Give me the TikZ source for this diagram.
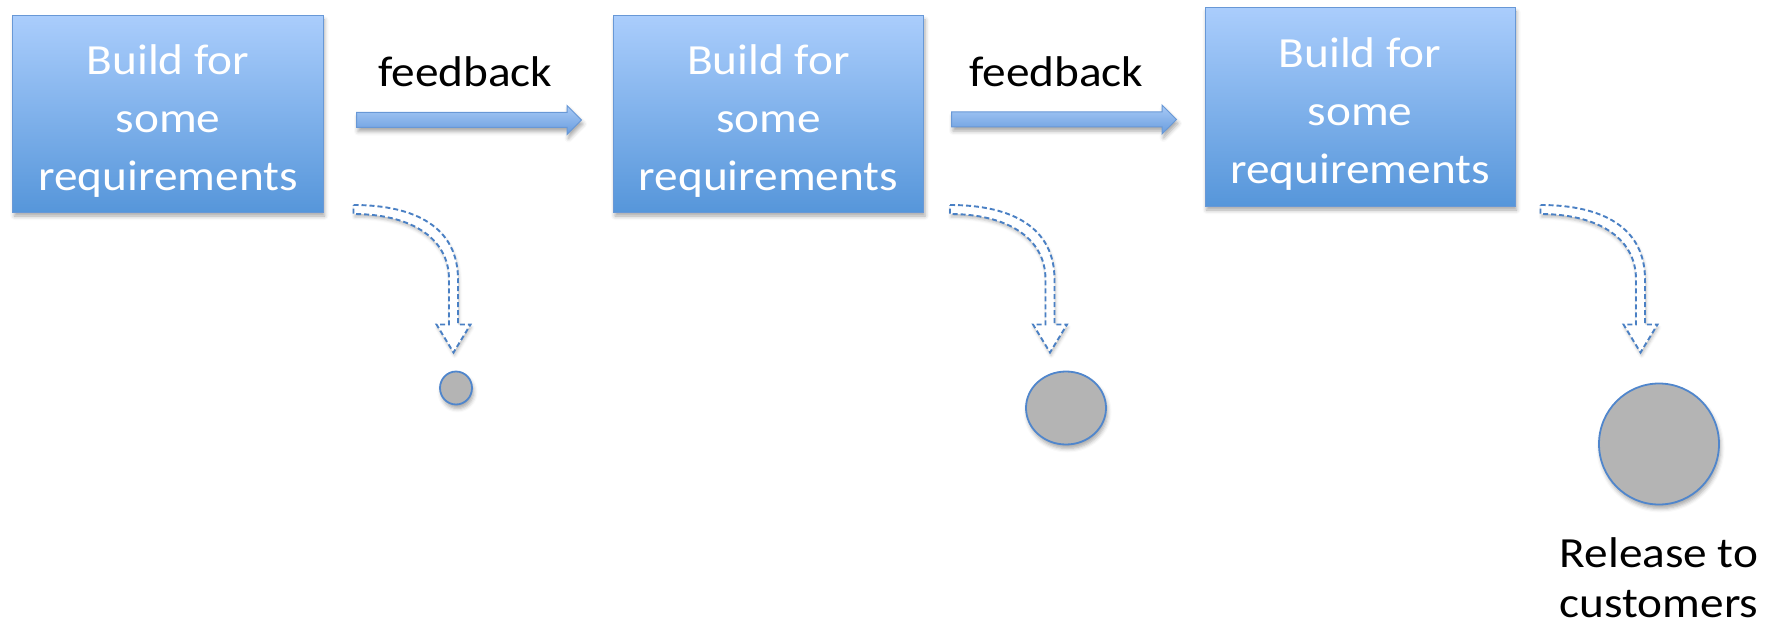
\documentclass[tikz,border=0pt]{standalone}
\usepackage{fontspec}
\setmainfont{Carlito}[FakeStretch=1.1]
\usetikzlibrary{shapes.arrows,shapes.geometric,shadows.blur,calc}

\definecolor{boxtop}{RGB}{170,205,252}
\definecolor{boxbot}{RGB}{86,150,218}
\definecolor{boxedge}{RGB}{104,152,214}
\definecolor{arrtop}{RGB}{168,202,246}
\definecolor{arrbot}{RGB}{104,156,222}
\definecolor{dashblue}{RGB}{74,128,196}
\definecolor{dotgray}{RGB}{180,180,180}
\definecolor{dotedge}{RGB}{80,134,204}

\tikzset{
  softshadow/.style={blur shadow={shadow xshift=1.5bp, shadow yshift=-4bp,
      shadow blur radius=4bp, shadow opacity=35}},
  buildbox/.style={rectangle, draw=boxedge, line width=1bp,
      top color=boxtop, bottom color=boxbot,
      minimum width=310bp, minimum height=196bp, inner sep=0pt,
      softshadow},
  boxtext/.style={align=center, text=white, inner sep=0pt,
      font=\fontsize{43bp}{58bp}\selectfont},
  fbarrow/.style={single arrow, draw=boxedge, line width=1bp,
      top color=arrtop, bottom color=arrbot,
      minimum width=28bp, single arrow head extend=7bp,
      inner sep=7bp, minimum height=225bp, softshadow},
  fblabel/.style={font=\fontsize{43bp}{50bp}\selectfont, text=black},
  dotnode/.style={ellipse, draw=dotedge, line width=1.8bp, fill=dotgray,
      inner sep=0pt, softshadow},
  dropstyle/.style={draw=dashblue, line width=1.9bp, dash pattern=on 5bp off 3bp,
      fill=white, line join=miter,
      blur shadow={shadow xshift=1bp, shadow yshift=-3bp,
      shadow blur radius=3bp, shadow opacity=25}},
  droparrow/.pic={
    \path[dropstyle] (0,-4.5) .. controls (62,-4.5) and (104.5,18) .. (104.5,70)
      -- (104.5,115) -- (117,115) -- (100,143) -- (83,115) -- (95.5,115)
      -- (95.5,70) .. controls (95.5,27) and (55,4.5) .. (0,4.5) -- cycle;
  }
}

\begin{document}
\begin{tikzpicture}[x=1bp,y=-1bp]
  \useasboundingbox (0,0) rectangle (1771,625);

  % the three build steps
  \node[buildbox] (b1) at (168,114) {};
  \node[buildbox] (b2) at (768.5,114) {};
  \node[buildbox, minimum height=198bp] (b3) at (1360,107) {};
  \node[boxtext] (t1) at ($(b1.center)+(0,7)$) {Build for\\some\\requirements};
  \node[boxtext] (t2) at ($(b2.center)+(0,7)$) {Build for\\some\\requirements};
  \node[boxtext] (t3) at ($(b3.center)+(0,7)$) {Build for\\some\\requirements};

  % feedback arrows between the steps
  \node[fbarrow] (f1) at ($(b1.east)!0.5!(b2.west)+(-3,6)$) {};
  \node[fbarrow] (f2) at ($(b2.east)!0.5!(b3.west)+(-4,9)$) {};
  \node[fblabel] (l1) at ($(f1.center)+(0,-48)$) {feedback};
  \node[fblabel] (l2) at ($(f2.center)+(-4,-48)$) {feedback};

  % partial deliveries
  \node[dotnode, minimum width=32bp, minimum height=33bp] (d1) at (456,388) {};
  \node[dotnode, minimum width=80bp, minimum height=73bp] (d2) at (1066,408) {};
  \node[dotnode, minimum width=120bp, minimum height=121bp] (d3) at (1659,444) {};
  \node[fblabel, align=center, anchor=north] (rel) at ($(d3.south)+(0,29)$) {Release to\\customers};

  % dashed hand-off arrows from each step to its delivery
  \coordinate (s1) at ($(b1.south east)+(30,-3)$);
  \coordinate (s2) at ($(b2.south east)+(26,-3)$);
  \coordinate (s3) at ($(b3.south east)+(25,3)$);
  \pic at (s1) {droparrow};
  \pic at (s2) {droparrow};
  \pic at (s3) {droparrow};
\end{tikzpicture}
\end{document}
